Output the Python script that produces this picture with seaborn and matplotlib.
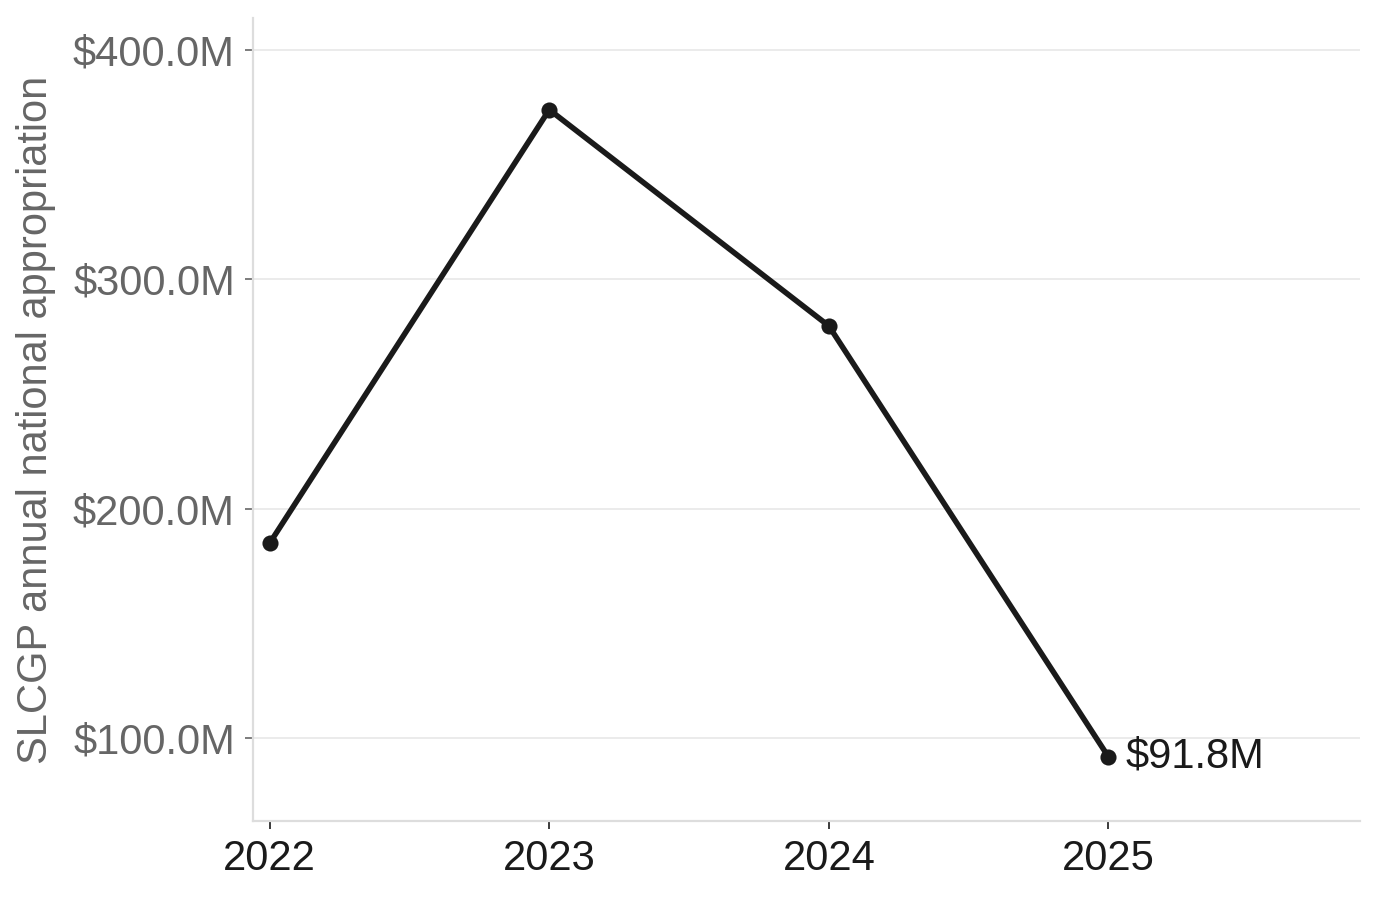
import matplotlib
matplotlib.use("Agg")
import matplotlib.pyplot as plt
import seaborn as sb
import pandas as pd
from matplotlib.ticker import FuncFormatter

years = [2022, 2023, 2024, 2025]
appropriation_m = [185.0, 374.0, 279.7, 91.8]
y_ticks = [100, 200, 300, 400]

data = pd.DataFrame({"year": years, "amount": appropriation_m})

sb.set_theme(style="white")
plt.rcParams["font.family"] = ["Liberation Sans", "DejaVu Sans"]

fig = plt.figure(figsize=(6.9, 4.495), dpi=200)
ax = fig.add_axes([0.1833, 0.0868, 0.8022, 0.8932])

sb.lineplot(data=data, x="year", y="amount", color="#1a1a1a", linewidth=2.0,
            marker="o", markersize=5.8, markeredgewidth=0, ax=ax)

# label only the last point
ax.annotate(f"${appropriation_m[-1]:.1f}M", (years[-1], appropriation_m[-1]),
            xytext=(6, 0), textcoords="offset points", va="center", ha="left",
            fontsize=15, color="#1a1a1a")

ax.set_xlim(2021.94, 2025.9)
ax.set_ylim(63.8, 414)
ax.set_xticks(years)
ax.set_yticks(y_ticks)
ax.yaxis.set_major_formatter(FuncFormatter(lambda v, pos: f"${v:.1f}M"))

ax.grid(axis="y", color="#ebebeb", linewidth=0.7)
ax.grid(axis="x", visible=False)
ax.set_axisbelow(True)

sb.despine(ax=ax)
for side in ["left", "bottom"]:
    ax.spines[side].set_color("#dddddd")
    ax.spines[side].set_linewidth(0.8)

ax.tick_params(axis="y", which="major", left=True, length=3, width=0.6,
               color="#666666", labelcolor="#666666", labelsize=15, pad=3.5)
ax.tick_params(axis="x", which="major", bottom=True, length=3, width=0.6,
               color="#1a1a1a", labelcolor="#1a1a1a", labelsize=15, pad=3.5)

ax.set_xlabel("")
ax.set_ylabel("SLCGP annual national appropriation", color="#666666", fontsize=15, labelpad=6)

fig.savefig("out.png", dpi=200)
